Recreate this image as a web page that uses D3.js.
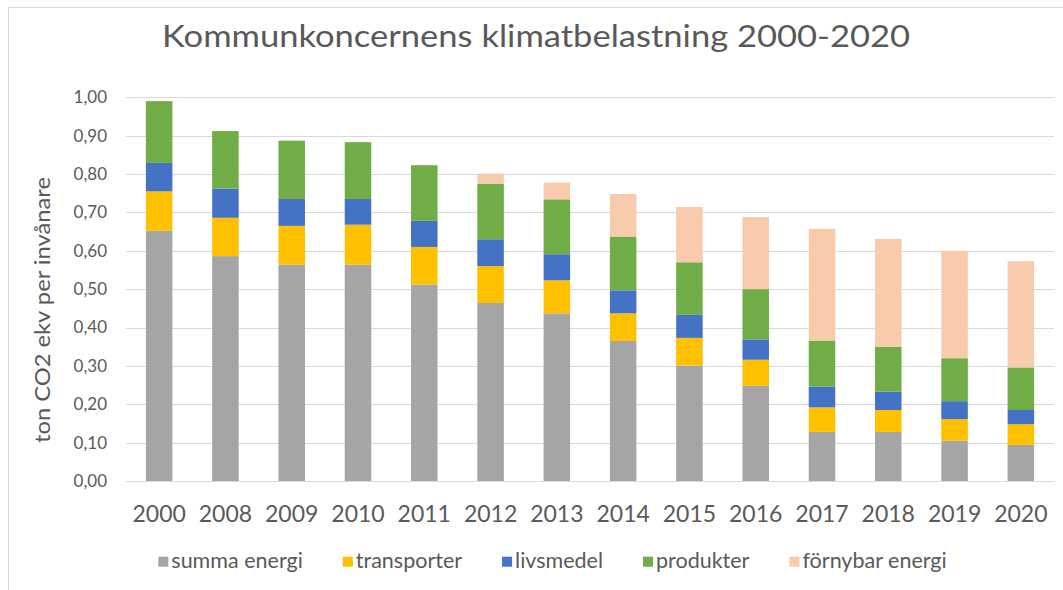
<!DOCTYPE html>
<html>
<head>
<meta charset="utf-8">
<script src="https://cdn.jsdelivr.net/npm/d3@7"></script>
<style>
  html, body { margin: 0; padding: 0; background: #fff; }
  svg { display: block; }
  text { font-family: Lato, "Open Sans", sans-serif; fill: #595959; }
</style>
</head>
<body>
<svg id="chart" width="1063" height="590"></svg>
<script>
// ---- data ----
const years = ["2000","2008","2009","2010","2011","2012","2013","2014","2015","2016","2017","2018","2019","2020"];
const seriesNames = ["summa energi","transporter","livsmedel","produkter","förnybar energi"];
const summaEnergi   = [0.652,0.586,0.564,0.564,0.512,0.464,0.437,0.365,0.301,0.248,0.128,0.128,0.105,0.094];
const transporter   = [0.103,0.100,0.101,0.104,0.098,0.096,0.086,0.072,0.072,0.068,0.064,0.057,0.056,0.054];
const livsmedel     = [0.074,0.076,0.070,0.067,0.068,0.070,0.068,0.060,0.060,0.053,0.054,0.048,0.047,0.037];
const produkter     = [0.161,0.150,0.152,0.148,0.145,0.145,0.143,0.140,0.137,0.131,0.120,0.117,0.112,0.111];
const fornybarEnergi= [0,0,0,0,0,0.026,0.044,0.111,0.144,0.188,0.291,0.281,0.280,0.277];
const yTicks = [0,0.1,0.2,0.3,0.4,0.5,0.6,0.7,0.8,0.9,1.0];
const titleText = "Kommunkoncernens klimatbelastning 2000-2020";
const yTitle = "ton CO2 ekv per invånare";
const colors = ["#a5a5a5","#ffc000","#4472c4","#70ad47","#f8cbad"];

const seriesValues = [summaEnergi, transporter, livsmedel, produkter, fornybarEnergi];
const table = years.map((y, i) => {
  const row = { year: y };
  seriesNames.forEach((k, j) => row[k] = seriesValues[j][i]);
  return row;
});

const svg = d3.select("#chart");
svg.append("rect").attr("width",1063).attr("height",590).attr("fill","#fff");
svg.append("rect").attr("x",8.5).attr("y",7.5).attr("width",1200).attr("height",800)
  .attr("fill","none").attr("stroke","#d9d9d9");

const x = d3.scaleBand().domain(years).range([126,1054]).paddingInner(0.6).paddingOuter(0.3);
const y = d3.scaleLinear().domain([0,1]).range([481,97.3]);

// gridlines
svg.append("g").selectAll("line").data(yTicks).join("line")
  .attr("x1",126).attr("x2",1054)
  .attr("y1",d=>Math.round(y(d))+0.5).attr("y2",d=>Math.round(y(d))+0.5)
  .attr("stroke","#d9d9d9").attr("stroke-width",1);

// y axis labels
const fmt = d => d3.format(".2f")(d).replace(".", ",");
svg.append("g").selectAll("text").data(yTicks).join("text")
  .attr("x",107).attr("y",d=>y(d)).attr("dy","0.35em")
  .attr("text-anchor","end").attr("font-size",17).text(fmt);

// bars
const stack = d3.stack().keys(seriesNames);
const stacked = stack(table);
svg.append("g").selectAll("g").data(stacked).join("g")
  .attr("fill",(d,i)=>colors[i])
  .selectAll("rect").data(d=>d).join("rect")
  .attr("x",d=>x(d.data.year)).attr("width",x.bandwidth())
  .attr("y",d=>y(d[1])).attr("height",d=>Math.max(0,y(d[0])-y(d[1])));

// x labels
svg.append("g").selectAll("text").data(years).join("text")
  .attr("x",d=>x(d)+x.bandwidth()/2).attr("y",522)
  .attr("text-anchor","middle").attr("font-size",23).text(d=>d);

// title
svg.append("text").attr("x",536).attr("y",47).attr("text-anchor","middle")
  .attr("font-size",31).attr("textLength",748).attr("lengthAdjust","spacingAndGlyphs")
  .text(titleText);

// y title
svg.append("text").attr("transform","translate(50,310) rotate(-90)")
  .attr("text-anchor","middle").attr("font-size",21)
  .attr("textLength",266).attr("lengthAdjust","spacingAndGlyphs")
  .text(yTitle);

// legend
const legend = svg.append("g");
const items = legend.selectAll("g").data(seriesNames).join("g");
items.append("rect").attr("width",10).attr("height",10).attr("y",556.7)
  .attr("fill",(d,i)=>colors[i]);
items.append("text").attr("x",13).attr("y",568).attr("font-size",21.5).text(d=>d);
const widths = [];
items.each(function(){ widths.push(d3.select(this).select("text").node().getComputedTextLength()); });
const gap = 40;
const total = widths.reduce((a,w)=>a+13+w,0) + gap*(widths.length-1);
let start = 552.5 - total/2;
items.attr("transform",(d,i)=>{ const t = start; start += 13 + widths[i] + gap; return `translate(${t},0)`; });
</script>
</body>
</html>
